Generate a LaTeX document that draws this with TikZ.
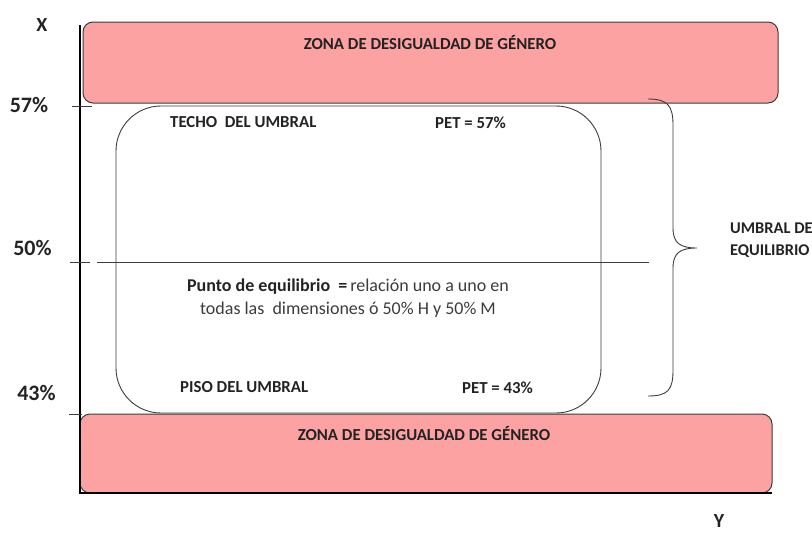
\documentclass[tikz,border=0pt]{standalone}
\usepackage{fontspec}
\setmainfont{Carlito}
\definecolor{zonepink}{RGB}{252,162,162}
\definecolor{edgegray}{RGB}{60,60,60}
\definecolor{txtdark}{RGB}{35,35,35}
\definecolor{txtgray}{RGB}{60,60,60}
\tikzset{
  zonebox/.style={draw=edgegray,line width=1pt,fill=zonepink,rounded corners=10pt,inner sep=0pt},
  umbralbox/.style={draw=edgegray,line width=0.9pt,rounded corners=45pt,inner sep=0pt},
  lbl/.style={font=\fontsize{16.8}{20}\selectfont\bfseries,text=txtdark,inner sep=0pt},
  pct/.style={font=\fontsize{22}{26}\selectfont\bfseries,text=txtdark,inner sep=0pt},
  axlbl/.style={font=\fontsize{20}{24}\selectfont\bfseries,text=txtdark,inner sep=0pt},
  thinline/.style={draw=edgegray,line width=0.9pt},
  axisline/.style={draw=black,line width=2.3pt}
}
\begin{document}
\begin{tikzpicture}[x=1pt,y=-1pt]
\useasboundingbox (0,0) rectangle (812,533);
% zones
\node[zonebox,minimum width=695pt,minimum height=81pt] (ztop) at (430.5,62.5) {};
\node[zonebox,minimum width=692pt,minimum height=79pt] (zbot) at (426,453.5) {};
\node[lbl] (ztoptxt) at (430,43) {ZONA DE DESIGUALDAD DE GÉNERO};
\node[lbl] (zbottxt) at (424,434) {ZONA DE DESIGUALDAD DE GÉNERO};
% threshold box
\node[umbralbox,minimum width=485pt,minimum height=307pt] (umbral) at (358.5,259.5) {};
% axes
\coordinate (xtop) at (80,25);
\coordinate (origin) at (80,493);
\coordinate (yend) at (772,493);
\draw[axisline] (xtop) -- (origin) -- (yend);
% ticks
\coordinate (t57a) at (72,106); \coordinate (t57b) at (92,106);
\coordinate (t50a) at (70,262); \coordinate (t50b) at (90,262);
\coordinate (m50a) at (97,262); \coordinate (m50b) at (649,262);
\coordinate (t43a) at (69,414); \coordinate (t43b) at (82,414);
\draw[thinline] (t57a) -- (t57b);
\draw[thinline] (t50a) -- (t50b);
\draw[thinline] (m50a) -- (m50b);
\draw[thinline] (t43a) -- (t43b);
% axis labels
\node[axlbl] (lx) at (42,25) {X};
\node[axlbl] (ly) at (719,521) {Y};
\node[pct] (l57) at (29,105) {57\%};
\node[pct] (l50) at (32.5,248) {50\%};
\node[pct] (l43) at (36.5,393) {43\%};
% inner labels
\node[lbl,anchor=west] (techo) at (170,122.5) {TECHO\ \ DEL UMBRAL};
\node[lbl,anchor=west] (pet57) at (435,122.5) {PET = 57\%};
\node[lbl,anchor=west] (piso) at (180,387.5) {PISO DEL UMBRAL};
\node[lbl,anchor=west] (pet43) at (462,387.5) {PET = 43\%};
\node[font=\fontsize{18}{22.5}\selectfont,text=txtgray,align=center,inner sep=0pt] (punto) at (348,298)
  {\textbf{\color{txtdark}Punto de equilibrio\ \ =}\,relación uno a uno en\\todas las\ \ dimensiones ó 50\% H y 50\% M};
% brace
\coordinate (bra) at (648,99);
\coordinate (brtip) at (697,248);
\coordinate (brb) at (648,396);
\draw[thinline] (bra) .. controls (668,99) and (673,106) .. (673,125)
  -- (673,228) .. controls (673,243) and (680,248) .. (brtip)
  .. controls (680,248) and (673,253) .. (673,268)
  -- (673,370) .. controls (673,390) and (668,396) .. (brb);
\node[lbl,anchor=west,align=left,font=\fontsize{16.4}{22}\selectfont\bfseries] (umbraleq) at (730,240) {UMBRAL DE\\EQUILIBRIO};
\end{tikzpicture}
\end{document}
